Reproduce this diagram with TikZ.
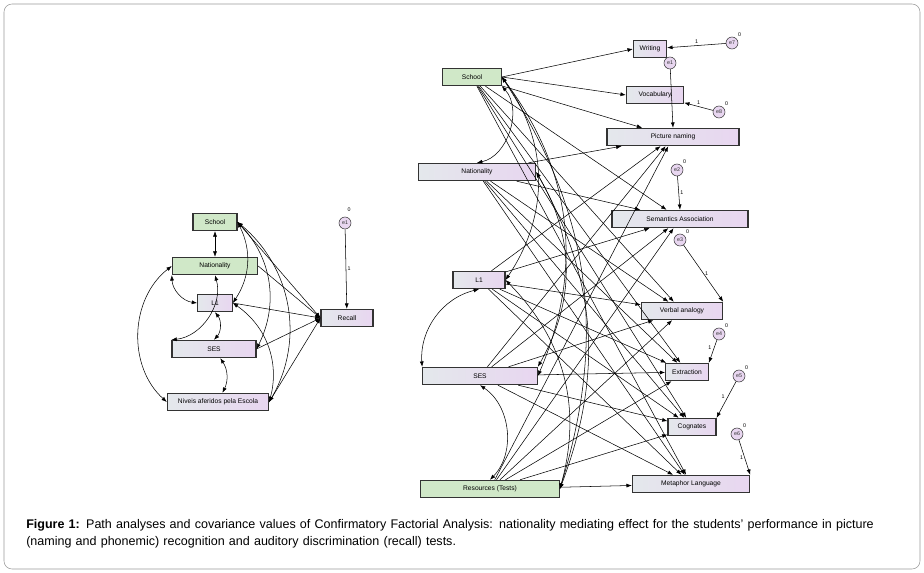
\documentclass[tikz,border=0pt]{standalone}
\usepackage{fontspec}
\setmainfont{Liberation Sans}
\usetikzlibrary{arrows.meta}
\definecolor{boxgreen}{RGB}{208,232,200}
\definecolor{boxlila}{RGB}{232,214,240}
\definecolor{boxgris}{RGB}{228,232,236}
\tikzset{
  obs/.style={rectangle,draw,thick,black!80,text=black,minimum height=13pt,inner sep=1pt,
    left color=boxgris,right color=boxlila,font=\fontsize{5}{6}\selectfont},
  exo/.style={obs,left color=boxgreen,right color=boxgreen},
  err/.style={circle,draw,black!80,fill=boxlila,inner sep=0pt,minimum size=9pt,font=\fontsize{4}{5}\selectfont},
  via/.style={-{Latex[length=4pt,width=3pt]},thin},
  cov/.style={{Latex[length=4pt,width=3pt]}-{Latex[length=4pt,width=3pt]},thin},
  peso/.style={font=\fontsize{4}{5}\selectfont,inner sep=1pt}
}
\begin{document}
\begin{tikzpicture}[x=0.75pt,y=-0.75pt]
\useasboundingbox (0,0) rectangle (924,573);
\draw[black!40,rounded corners=6pt] (4,4) rectangle (920,569);

% modelo de la izquierda
\node (sch) at (215,222) [exo,minimum width=33pt] {School};
\node (nat) at (215,266) [exo,minimum width=64pt] {Nationality};
\node (lu) at (215,303) [obs,minimum width=26pt] {L1};
\node (ses) at (214,349) [obs,minimum width=63pt] {SES};
\node (niv) at (218,402) [obs,minimum width=76pt] {Niveis aferidos pela Escola};
\node (rec) at (347,318) [obs,minimum width=39pt] {Recall};
\node (eu) at (345,223) [err] {e1};
\node[peso] at (349,210) {0};

\draw[via] (eu) -- node[peso,right] {1} (rec);
\foreach \p in {sch,nat,lu,ses,niv}
  \draw[via] (\p.east) -- (rec.west);
\draw[cov] (sch) -- (nat);
\draw[cov] (nat.south west) to[bend right=40] (lu.west);
\draw[cov] (nat.south) to[bend left=50] (ses.north west);
\draw[cov] (lu.south) to[bend left=40] (ses.north);
\draw[cov] (ses) to[bend left=30] (niv);
\draw[cov] (nat.west) to[bend right=50] (niv.west);
\draw[cov] (sch.east) to[bend left=30] (lu.east);
\draw[cov] (sch.east) to[bend left=35] (ses.east);
\draw[cov] (sch.east) to[bend left=40] (niv.east);
\draw[cov] (lu.east) to[bend left=35] (niv.east);

% modelo de la derecha
\node (School) at (472,77) [exo,minimum width=44pt] {School};
\node (Nat) at (477,172) [obs,minimum width=88pt] {Nationality};
\node (Lone) at (479,280) [obs,minimum width=39pt] {L1};
\node (SES) at (480,376) [obs,minimum width=86pt] {SES};
\node (Res) at (490,489) [exo,minimum width=104pt] {Resources (Tests)};

\node (wri) at (650,49) [obs,minimum width=25pt] {Writing};
\node (voc) at (655,95) [obs,minimum width=43pt] {Vocabulary};
\node (pic) at (673,137) [obs,minimum width=99pt] {Picture naming};
\node (sem) at (680,219) [obs,minimum width=102pt] {Semantics Association};
\node (ver) at (682,311) [obs,minimum width=61pt] {Verbal analogy};
\node (ext) at (687,372) [obs,minimum width=32pt] {Extraction};
\node (cog) at (692,427) [obs,minimum width=36pt] {Cognates};
\node (met) at (691,484) [obs,minimum width=88pt] {Metaphor Language};

\node (e7) at (732,43) [err] {e7};
\node (e1) at (670,63) [err] {e1};
\node (e8) at (719,112) [err] {e8};
\node (e2) at (677,170) [err] {e2};
\node (e3) at (680,240) [err] {e3};
\node (e4) at (719,334) [err] {e4};
\node (e5) at (739,376) [err] {e5};
\node (e6) at (737,434) [err] {e6};
\foreach \e in {e7,e8,e2,e3,e4,e5,e6}
  \node[peso,anchor=south west] at (\e.north east) {0};

\draw[via] (e7) -- node[peso,above] {1} (wri);
\draw[via] (e1) -- (pic.north);
\draw[via] (e8) -- node[peso,above] {1} (voc);
\draw[via] (e2) -- node[peso,right] {1} (sem.north);
\draw[via] (e3) -- node[peso,right] {1} (ver.north east);
\draw[via] (e4) -- node[peso,above left] {1} (ext.north east);
\draw[via] (e5) -- node[peso,above left] {1} (cog.north east);
\draw[via] (e6) -- node[peso,left] {1} (met.north east);

\draw[via] (School.east) -- (wri.west);
\draw[via] (School.east) -- (voc.west);
\foreach \p in {School,Nat,Lone,SES,Res}
  \foreach \o in {pic,sem,ver,ext,cog,met}
    \draw[via] (\p) -- (\o);

\draw[cov] (School.south east) to[bend left=60] (Nat.north);
\draw[cov] (School.east) to[bend left=35] (Lone.east);
\draw[cov] (School.east) to[bend left=30] (SES.east);
\draw[cov] (School.east) to[bend left=25] (Res.east);
\draw[cov] (Nat.east) to[bend left=30] (SES.north east);
\draw[cov] (Nat.east) to[bend left=25] (Res.east);
\draw[cov] (Lone.south) to[bend right=40] (SES.north west);
\draw[cov] (Lone.east) to[bend left=30] (Res.east);
\draw[cov] (SES.south) to[bend left=50] (Res.north);

% leyenda
\node[anchor=north west,text width=648pt,align=left,font=\fontsize{9.4}{13.2}\selectfont,inner sep=0pt]
  (cap) at (26,519) {\textbf{Figure 1:} Path analyses and covariance values of Confirmatory Factorial Analysis: nationality mediating effect for the students' performance in picture (naming and phonemic) recognition and auditory discrimination (recall) tests.};
\end{tikzpicture}
\end{document}
